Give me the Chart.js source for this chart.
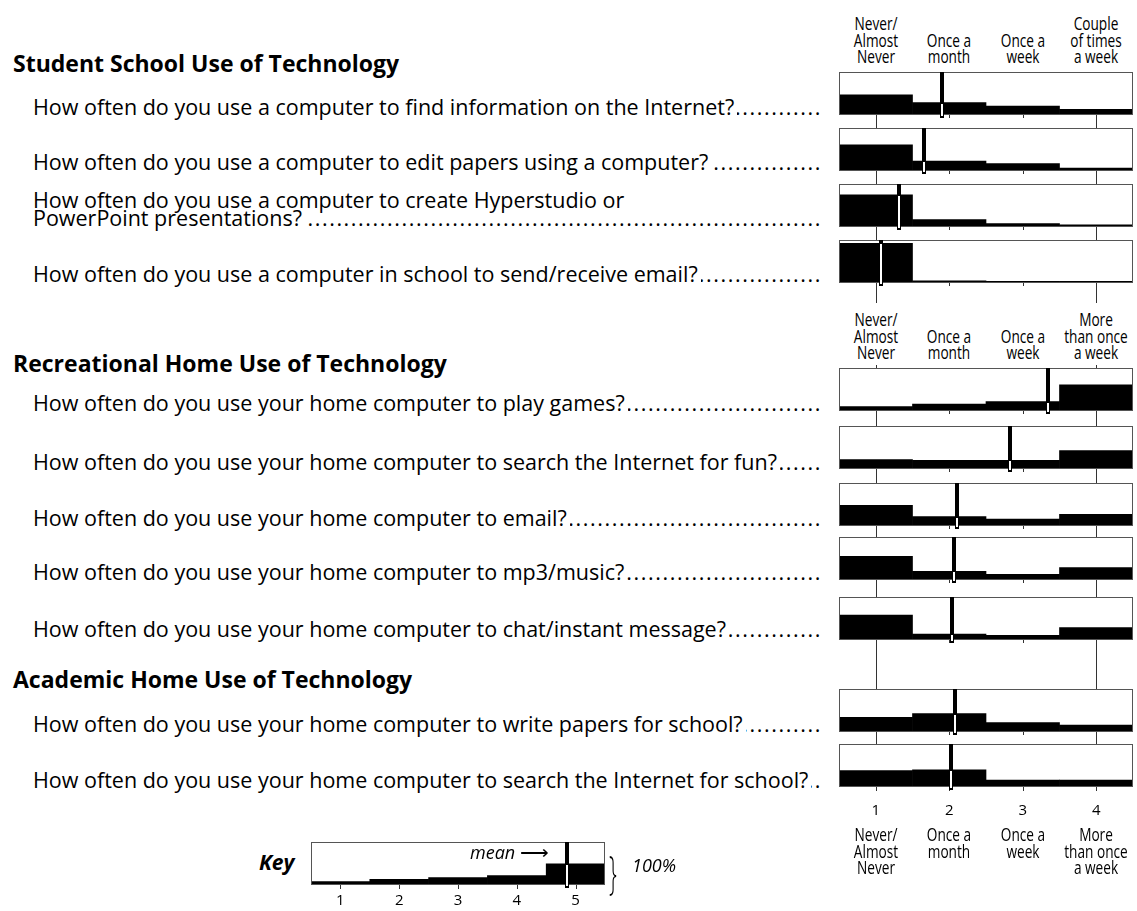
<!DOCTYPE html>
<html>
<head>
<meta charset="utf-8">
<script src="https://cdn.jsdelivr.net/npm/chart.js@4.4.1/dist/chart.umd.min.js"></script>
<style>
  body { margin: 0; background: #fff; }
  #page { position: relative; width: 1137px; height: 911px; overflow: hidden; font-family: 'Open Sans', sans-serif; color: #000; }
  .t { position: absolute; white-space: nowrap; line-height: 20px; }
  .sec { font-weight: bold; font-size: 23px; left: 13px; }
  .q { font-size: 21.5px; left: 33px; }
  .row { width: 789px; display: flex; align-items: baseline; }
  .dots { flex: 1; overflow: hidden; direction: rtl; letter-spacing: 1.6px; margin-left: 3px; }
  .cat { font-size: 17.5px; line-height: 16.5px; text-align: center; transform: translateX(-50%) scaleX(0.78); }
  canvas { position: absolute; }
  .key { font-weight: bold; font-style: italic; font-size: 21px; }
  .it { font-style: italic; font-size: 18px; }
</style>
</head>
<body>
<div id="page"></div>
<script>
// --- data ---
const sections = ['Student School Use of Technology', 'Recreational Home Use of Technology', 'Academic Home Use of Technology'];
const questions = [
    'How often do you use a computer to find information on the Internet?',
    'How often do you use a computer to edit papers using a computer?',
    'How often do you use a computer to create Hyperstudio or\nPowerPoint presentations?',
    'How often do you use a computer in school to send/receive email?',
    'How often do you use your home computer to play games?',
    'How often do you use your home computer to search the Internet for fun?',
    'How often do you use your home computer to email?',
    'How often do you use your home computer to mp3/music?',
    'How often do you use your home computer to chat/instant message?',
    'How often do you use your home computer to write papers for school?',
    'How often do you use your home computer to search the Internet for school?'
];
const questionSection = [0, 0, 0, 0, 1, 1, 1, 1, 1, 2, 2];
// share of answers (% of box height) for 1..4
const answerShares = [
    [47, 29, 21, 13],
    [61, 23, 17, 7],
    [75, 17, 8, 5],
    [92, 5, 4, 4],
    [10, 16, 22, 61],
    [22, 20, 20, 43],
    [48, 22, 16, 27],
    [55, 20, 13, 29],
    [58, 14, 11, 29],
    [34, 43, 22, 16],
    [38, 40, 16, 16]
];
const means = [1.90, 1.65, 1.32, 1.07, 3.35, 2.83, 2.11, 2.06, 2.04, 2.08, 2.03];
const scaleValues = [1, 2, 3, 4];
const schoolLabels = ['Never/\nAlmost\nNever', 'Once a\nmonth', 'Once a\nweek', 'Couple\nof times\na week'];
const homeLabels = ['Never/\nAlmost\nNever', 'Once a\nmonth', 'Once a\nweek', 'More\nthan once\na week'];
const keyValues = [1, 2, 3, 4, 5];
const keyShares = [8, 13, 17, 22, 49];
const keyMean = 4.86;

// --- layout ---
const page = document.getElementById('page');
const secBase = [72, 372, 688];
const qBase = [115, 170, 226, 282, 411, 470, 526, 580, 637, 732, 788];
const panelTop = [72, 128, 184, 240, 368, 426, 483, 537, 597, 689, 744];
const PANEL_H = 43;
const CAT_LH = 16.5;

function baselineOffset(cls) {
    const d = document.createElement('div');
    d.className = 't ' + cls;
    d.style.top = '0px';
    d.innerHTML = 'Hx<span style="display:inline-block;width:1px;height:0"></span>';
    page.appendChild(d);
    const off = d.lastChild.getBoundingClientRect().top - d.getBoundingClientRect().top;
    d.remove();
    return off;
}

function addText(cls, html, left, base) {
    const d = document.createElement('div');
    d.className = 't ' + cls;
    d.innerHTML = html;
    if (left != null) d.style.left = left + 'px';
    d.style.top = (base - baselineOffset(cls)) + 'px';
    page.appendChild(d);
    return d;
}

sections.forEach((s, i) => addText('sec', s, null, secBase[i]));

questions.forEach((q, i) => {
    const lines = q.split('\n');
    const last = lines.pop();
    lines.forEach((l, j) => addText('q', l, null, qBase[i] - 18 * (lines.length - j)));
    addText('q row', '<span>' + last + '</span><span class="dots">' + '.'.repeat(120) + '</span>', null, qBase[i]);
});

// draws box border, tick marks / connector lines and the mean marker
function panelPlugin(values, mean, ticks, long, short, above) {
    return {
        id: 'panel',
        afterDatasetsDraw(chart) {
            const { ctx, chartArea: a, scales: { x, y } } = chart;
            ctx.save();
            ctx.lineWidth = 1;
            ctx.strokeStyle = '#333';
            ticks.forEach((v, i) => {
                const px = Math.round(x.getPixelForValue(v)) + 0.5;
                const end = (i === 0 || i === ticks.length - 1);
                const len = end ? long : short;
                ctx.beginPath();
                ctx.moveTo(px, a.bottom);
                ctx.lineTo(px, a.bottom + len);
                if (above && end) {
                    ctx.moveTo(px, a.top);
                    ctx.lineTo(px, a.top - above);
                }
                ctx.stroke();
            });
            ctx.strokeStyle = '#555';
            ctx.strokeRect(a.left + 0.5, a.top + 0.5, a.right - a.left - 1, a.bottom - a.top - 1);

            const mx = Math.round(x.getPixelForValue(mean));
            const barTop = Math.round(y.getPixelForValue(values[Math.round(mean) - 1]));
            ctx.fillStyle = '#000';
            ctx.fillRect(mx - 2, a.top, 4, a.bottom - a.top + 3);
            ctx.fillStyle = '#fff';
            ctx.fillRect(mx - 1, barTop + 1, 2, a.bottom - barTop);
            ctx.restore();
        }
    };
}

function makePanel(o) {
    const canvas = document.createElement('canvas');
    const topH = o.above || 0;
    canvas.width = 304;
    canvas.height = topH + PANEL_H + o.bottom;
    canvas.style.left = o.left + 'px';
    canvas.style.top = (o.top - topH) + 'px';
    page.appendChild(canvas);

    const chart = new Chart(canvas, {
        type: 'bar',
        data: {
            datasets: [{
                data: o.values.map((v, i) => ({ x: o.ticks[i], y: v })),
                backgroundColor: '#000',
                borderWidth: 0,
                barPercentage: 1,
                categoryPercentage: 1
            }]
        },
        options: {
            responsive: false,
            animation: false,
            events: [],
            devicePixelRatio: 1,
            layout: { padding: { left: 5, right: 5, top: topH, bottom: o.numbers ? 0 : o.bottom } },
            plugins: { legend: { display: false }, tooltip: { enabled: false } },
            scales: {
                x: {
                    type: 'linear', offset: false,
                    min: o.ticks[0] - 0.5, max: o.ticks[o.ticks.length - 1] + 0.5,
                    display: !!o.numbers,
                    afterBuildTicks: s => { s.ticks = o.ticks.map(v => ({ value: v })); },
                    afterFit: s => { s.height = o.numbers ? o.bottom : 0; },
                    grid: { display: false, drawTicks: false, offset: false },
                    border: { display: false },
                    ticks: { autoSkip: false, maxRotation: 0, padding: o.numbersPad || 0, color: '#000',
                             font: { family: "'Open Sans', sans-serif", size: 15 } }
                },
                y: { min: 0, max: 100, display: false }
            }
        },
        plugins: [panelPlugin(o.values, o.mean, o.ticks, o.long, o.short, o.above)]
    });
    return chart;
}

// category names over / under a box, centred on the box's scale values
function addCategoryLabels(chart, canvasLeft, labels, ticks, lastBase, firstBase) {
    const off = baselineOffset('cat');
    ticks.forEach((v, i) => {
        const lines = labels[i].split('\n');
        const cx = canvasLeft + chart.scales.x.getPixelForValue(v);
        const fb = firstBase != null ? firstBase : lastBase - CAT_LH * (lines.length - 1);
        const d = document.createElement('div');
        d.className = 't cat';
        d.innerHTML = lines.join('<br>');
        d.style.left = cx + 'px';
        d.style.top = (fb - off) + 'px';
        page.appendChild(d);
    });
}

const lastIdx = answerShares.length - 1;
answerShares.forEach((vals, i) => {
    const sec = questionSection[i];
    const first = i === 0 || questionSection[i - 1] !== sec;
    const isLast = i === lastIdx;
    const header = first && sec < 2 ? (sec === 0 ? schoolLabels : homeLabels) : null;
    let gap = 0;
    if (!isLast) gap = (i === 3) ? 20 : panelTop[i + 1] - panelTop[i] - PANEL_H;
    const chart = makePanel({
        left: 834, top: panelTop[i], values: vals, mean: means[i], ticks: scaleValues,
        above: header && sec === 1 ? 3 : 0,
        bottom: isLast ? 36 : gap, long: isLast ? 4 : gap, short: isLast ? 4 : 3,
        numbers: isLast, numbersPad: 15
    });
    if (header) addCategoryLabels(chart, 834, header, scaleValues, panelTop[i] - 9, null);
    if (isLast) addCategoryLabels(chart, 834, homeLabels, scaleValues, null, 841);
});

// key
makePanel({
    left: 306, top: 842, values: keyShares, mean: keyMean, ticks: keyValues,
    above: 0, bottom: 27, long: 4, short: 4, numbers: true, numbersPad: 7
});
addText('key', 'Key', 259, 870);
addText('it', 'mean <span style="font-style:normal;font-size:20px">⟶</span>', 470, 859);
addText('it', '100%', 632, 872);
const brace = addText('', '}', 609, 876);
brace.style.fontSize = '22px';
brace.style.fontWeight = '300';
brace.style.transform = 'scaleY(2.1)';
</script>
</body>
</html>
